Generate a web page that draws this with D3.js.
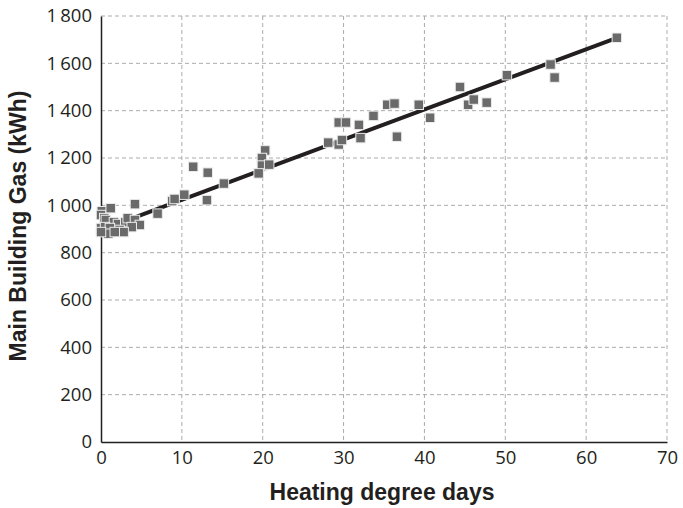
<!DOCTYPE html>
<html><head><meta charset="utf-8">
<script src="https://cdn.jsdelivr.net/npm/d3@7"></script>
<style>body{margin:0;background:#fff}svg{display:block}</style>
</head><body><svg id="c" width="683" height="508"></svg>
<script>
const hdd = [0.1,0,0.4,0.6,1.2,1.6,2.1,3.0,3.3,4.2,4.2,4.8,0,0.5,1.1,2.3,3.8,2.8,0.9,1.7,0,
  7.0,8.8,9.1,10.3,11.4,13.2,13.1,15.2,20.3,19.9,19.9,20.8,19.5,
  28.1,29.4,29.8,29.4,30.3,32.1,31.9,33.7,35.4,36.3,36.6,
  39.3,40.7,44.4,45.4,46.1,47.7,50.2,55.6,56.1,63.8];
const gas = [975,959,946,938,988,929,921,929,946,1005,938,917,904,908,904,896,908,887,880,887,887,
  965,1018,1027,1045,1163,1138,1022,1092,1232,1200,1168,1172,1135,
  1265,1257,1276,1350,1350,1284,1340,1378,1425,1430,1290,
  1425,1370,1500,1425,1447,1434,1550,1595,1540,1708];
const fitX = [3.6, 63.8];
const fitY = [942, 1708];
const xTicks = [0,10,20,30,40,50,60,70];
const yTicks = [0,200,400,600,800,1000,1200,1400,1600,1800];

const svg = d3.select("#c");
const L=101, T=16, R=667, B=442;
const x = d3.scaleLinear().domain([0,70]).range([L,R]);
const y = d3.scaleLinear().domain([0,1800]).range([B,T]);
const fmt = v => v>=1000 ? d3.format(",")(v).replace(",", "\u2009") : String(v);

// grid
svg.append("g").selectAll("line").data(yTicks.filter(d=>d>0)).join("line")
  .attr("x1",L).attr("x2",R).attr("y1",d=>y(d)).attr("y2",d=>y(d))
  .attr("stroke","#ababab").attr("stroke-width",1).attr("stroke-dasharray","4,3");
svg.append("g").selectAll("line").data(xTicks.filter(d=>d>0)).join("line")
  .attr("y1",T).attr("y2",B).attr("x1",d=>x(d)).attr("x2",d=>x(d))
  .attr("stroke","#ababab").attr("stroke-width",1).attr("stroke-dasharray","4,3");

// axes
const xa = svg.append("g").attr("transform",`translate(0,${B})`)
  .call(d3.axisBottom(x).tickValues(xTicks).tickSize(0).tickPadding(9));
const ya = svg.append("g").attr("transform",`translate(${L},0)`)
  .call(d3.axisLeft(y).tickValues(yTicks).tickSize(0).tickPadding(9).tickFormat(fmt));
[xa,ya].forEach(a=>{
  a.select(".domain").attr("stroke","#231f20").attr("stroke-width",1.5);
  a.selectAll("text").attr("font-family","'Open Sans', sans-serif").attr("font-size",18.5).attr("fill","#231f20");
});

// fit line
svg.append("line")
  .attr("x1",x(fitX[0])).attr("y1",y(fitY[0])).attr("x2",x(fitX[1])).attr("y2",y(fitY[1]))
  .attr("stroke","#231f20").attr("stroke-width",4);

// points
const s=9.5;
svg.append("g").selectAll("rect").data(hdd.map((h,i)=>[h,gas[i]])).join("rect")
  .attr("x",d=>x(d[0])-s/2).attr("y",d=>y(d[1])-s/2).attr("width",s).attr("height",s)
  .attr("fill","#6a6a6a").attr("stroke","#ececec").attr("stroke-width",1);

// titles
svg.append("text").attr("x",382).attr("y",500).attr("text-anchor","middle")
  .attr("font-family","'Liberation Sans', Arial, sans-serif").attr("font-weight","bold")
  .attr("font-size",23).attr("fill","#231f20").text("Heating degree days");
svg.append("text").attr("transform","translate(26,226) rotate(-90)").attr("text-anchor","middle")
  .attr("font-family","'Liberation Sans', Arial, sans-serif").attr("font-weight","bold")
  .attr("font-size",23).attr("fill","#231f20").text("Main Building Gas (kWh)");
</script></body></html>
